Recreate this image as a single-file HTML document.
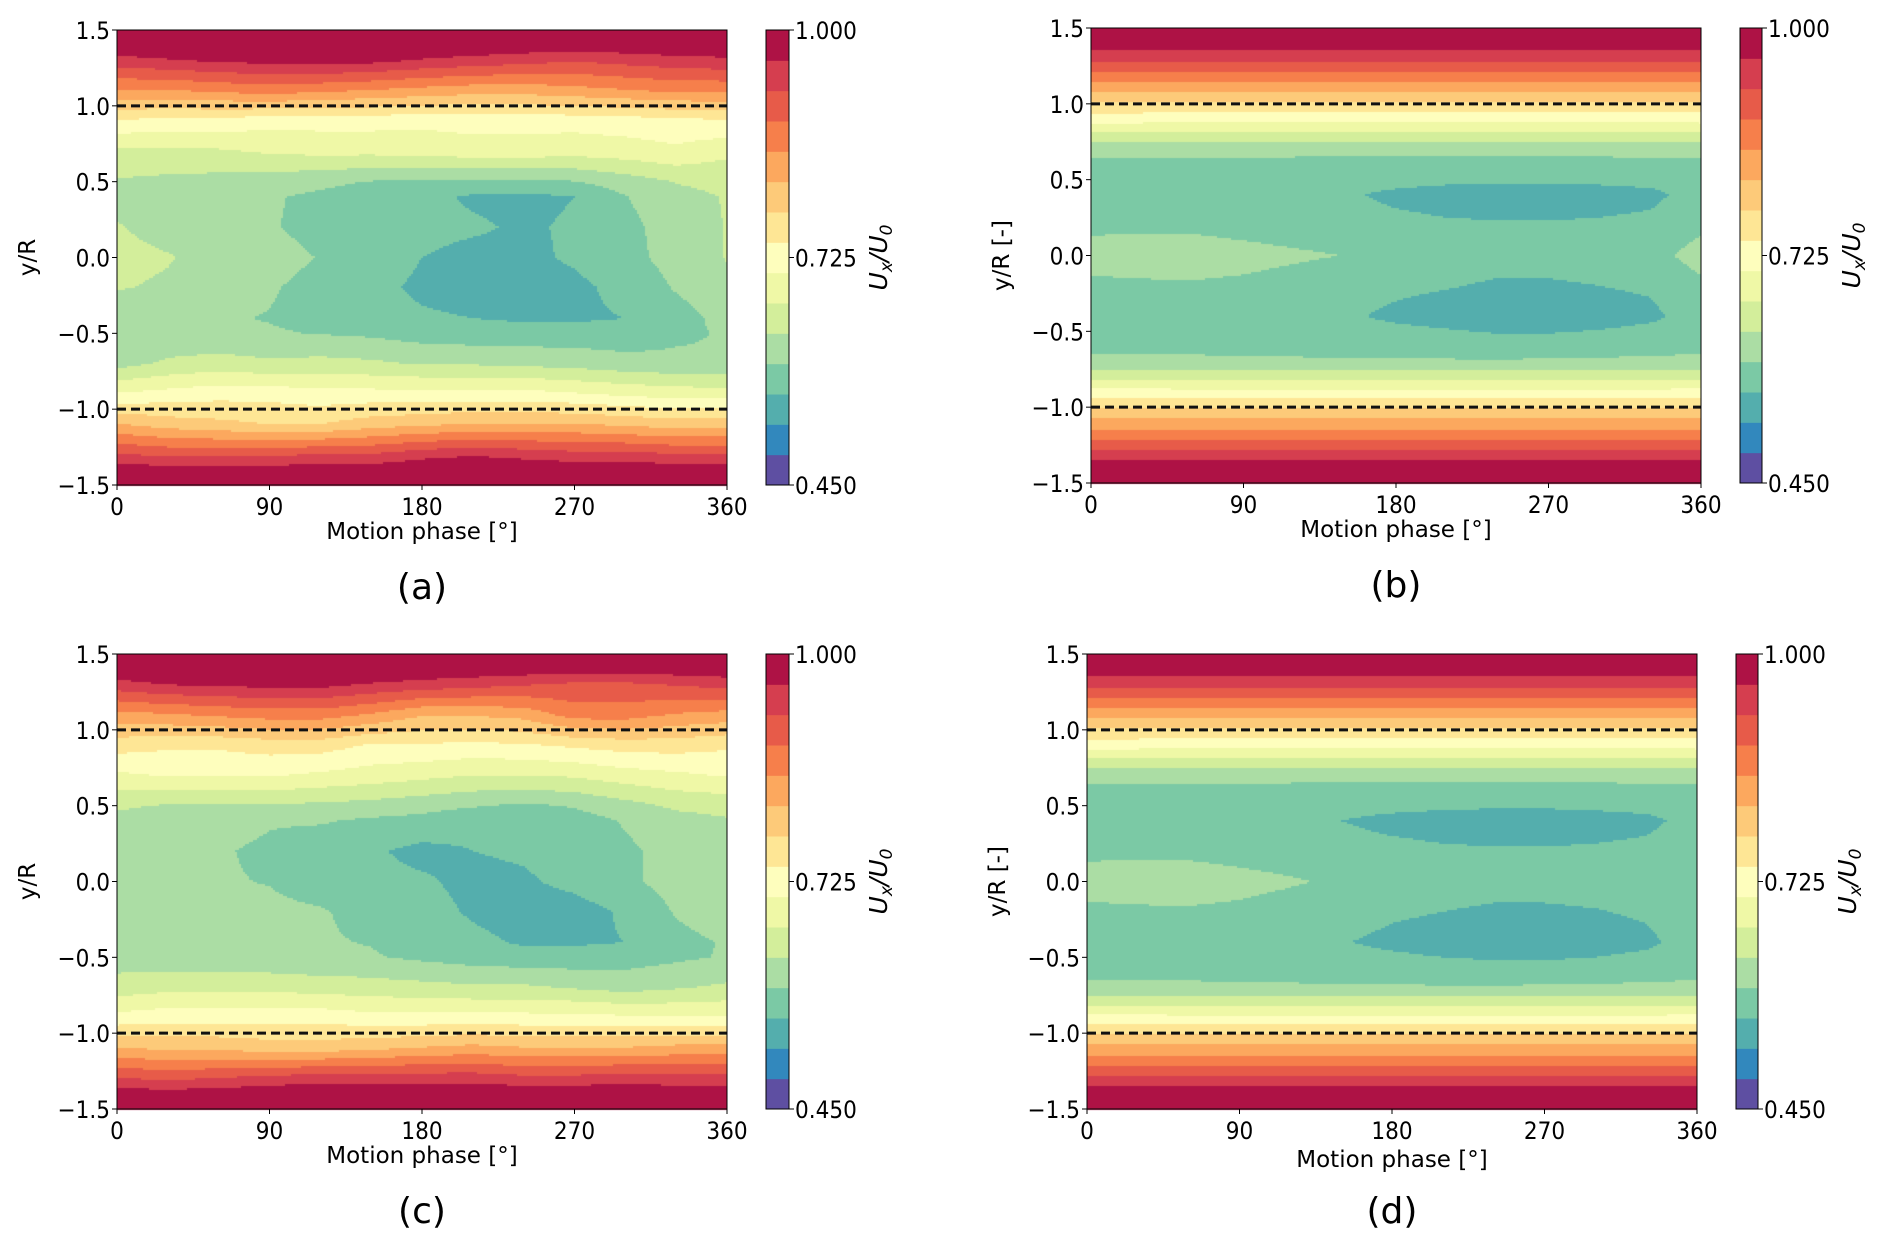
<!DOCTYPE html>
<html><head><meta charset="utf-8">
<style>
html,body{margin:0;padding:0;background:#fff;}
#wrap{position:relative;width:1892px;height:1248px;overflow:hidden;}
canvas,svg{position:absolute;left:0;top:0;}
text{font-family:"DejaVu Sans","Liberation Sans",sans-serif;fill:#000;}
</style></head>
<body>
<div id="wrap">
<canvas id="cv" width="1892" height="1248"></canvas>
<svg id="sv" width="1892" height="1248"></svg>
</div>
<script>
const phases=[0,30,60,90,120,150,180,210,240,270,300,330,360];
const yNodes=[1.5,1.3,1.1,0.9,0.7,0.5,0.4,0.2,0,-0.2,-0.4,-0.5,-0.7,-0.9,-1.1,-1.3,-1.5];
const xTicks=[0,90,180,270,360];
const yTicks=[-1.5,-1.0,-0.5,0.0,0.5,1.0,1.5];
const levelMin=0.45, levelMax=1.0, nLevels=15;
const cbTicks=["0.450","0.725","1.000"];
const bandColors=["#5e4fa2","#3288bd","#54aead","#7bc9a5","#abdda4","#d3ee9b","#eff8a6","#fefebd","#fee695","#fdca79","#fca85e","#f67f4b","#e75b49","#d53e4f","#ae1245"];
const fieldA=[
[1.04,1.04,1.04,1.04,1.04,1.04,1.04,1.04,1.04,1.04,1.04,1.04,1.04],
[0.95,0.96,0.97,0.975,0.98,0.975,0.96,0.95,0.94,0.93,0.94,0.95,0.955],
[0.85,0.85,0.86,0.87,0.86,0.85,0.84,0.83,0.83,0.84,0.85,0.86,0.86],
[0.74,0.73,0.73,0.72,0.72,0.72,0.715,0.72,0.72,0.72,0.725,0.73,0.74],
[0.66,0.66,0.665,0.675,0.68,0.68,0.685,0.69,0.69,0.685,0.69,0.7,0.68],
[0.63,0.625,0.62,0.615,0.605,0.595,0.59,0.59,0.59,0.595,0.615,0.635,0.64],
[0.625,0.62,0.61,0.6,0.59,0.58,0.57,0.555,0.55,0.56,0.595,0.625,0.635],
[0.635,0.625,0.615,0.6,0.585,0.575,0.57,0.565,0.555,0.565,0.585,0.615,0.635],
[0.64,0.635,0.625,0.61,0.595,0.58,0.56,0.55,0.552,0.565,0.585,0.61,0.635],
[0.635,0.63,0.615,0.6,0.585,0.57,0.553,0.545,0.545,0.552,0.57,0.6,0.625],
[0.61,0.61,0.6,0.595,0.585,0.575,0.565,0.56,0.555,0.555,0.56,0.58,0.61],
[0.6,0.605,0.6,0.6,0.595,0.59,0.58,0.575,0.575,0.575,0.575,0.59,0.6],
[0.62,0.64,0.65,0.64,0.645,0.64,0.63,0.63,0.625,0.62,0.61,0.605,0.6],
[0.71,0.72,0.73,0.73,0.72,0.72,0.72,0.72,0.72,0.71,0.7,0.69,0.69],
[0.82,0.8,0.79,0.78,0.78,0.8,0.81,0.82,0.82,0.82,0.81,0.8,0.8],
[0.93,0.92,0.92,0.92,0.93,0.93,0.95,0.96,0.95,0.94,0.94,0.93,0.93],
[1.04,1.04,1.04,1.04,1.04,1.04,1.04,1.04,1.04,1.04,1.04,1.04,1.04]];
const fieldB=[
[1.04,1.04,1.04,1.04,1.04,1.04,1.04,1.04,1.04,1.04,1.04,1.04,1.04],
[0.937,0.937,0.937,0.937,0.937,0.937,0.937,0.937,0.937,0.937,0.937,0.937,0.937],
[0.83,0.83,0.83,0.83,0.83,0.83,0.83,0.83,0.83,0.83,0.83,0.83,0.83],
[0.722,0.722,0.721,0.72,0.719,0.718,0.717,0.717,0.717,0.717,0.718,0.72,0.722],
[0.606,0.606,0.605,0.605,0.604,0.604,0.605,0.605,0.606,0.606,0.606,0.606,0.606],
[0.575,0.575,0.575,0.575,0.575,0.574,0.572,0.568,0.565,0.565,0.568,0.572,0.575],
[0.578,0.578,0.577,0.575,0.572,0.565,0.552,0.545,0.543,0.543,0.545,0.55,0.578],
[0.59,0.59,0.59,0.585,0.58,0.575,0.57,0.565,0.563,0.563,0.565,0.57,0.59],
[0.61,0.612,0.613,0.608,0.602,0.596,0.58,0.575,0.572,0.572,0.575,0.585,0.61],
[0.59,0.592,0.593,0.59,0.583,0.575,0.567,0.562,0.556,0.556,0.56,0.565,0.59],
[0.578,0.578,0.577,0.575,0.57,0.565,0.553,0.545,0.54,0.54,0.543,0.552,0.578],
[0.575,0.575,0.575,0.575,0.574,0.572,0.568,0.563,0.557,0.557,0.562,0.57,0.575],
[0.604,0.604,0.603,0.602,0.601,0.6,0.6,0.6,0.6,0.601,0.602,0.603,0.604],
[0.718,0.718,0.718,0.718,0.718,0.718,0.718,0.718,0.718,0.718,0.718,0.718,0.718],
[0.83,0.83,0.83,0.83,0.83,0.83,0.83,0.83,0.83,0.83,0.83,0.83,0.83],
[0.935,0.935,0.935,0.935,0.935,0.935,0.935,0.935,0.935,0.935,0.935,0.935,0.935],
[1.04,1.04,1.04,1.04,1.04,1.04,1.04,1.04,1.04,1.04,1.04,1.04,1.04]];
const fieldC=[
[1.04,1.04,1.04,1.04,1.04,1.04,1.04,1.04,1.04,1.04,1.04,1.04,1.04],
[0.95,0.965,0.97,0.975,0.975,0.96,0.95,0.94,0.93,0.92,0.92,0.93,0.94],
[0.84,0.85,0.86,0.87,0.87,0.85,0.82,0.82,0.83,0.87,0.87,0.85,0.84],
[0.76,0.75,0.75,0.76,0.76,0.74,0.74,0.735,0.74,0.75,0.76,0.76,0.75],
[0.7,0.71,0.71,0.71,0.7,0.69,0.68,0.67,0.67,0.675,0.69,0.7,0.71],
[0.64,0.63,0.63,0.63,0.625,0.62,0.61,0.6,0.59,0.6,0.62,0.64,0.645],
[0.62,0.61,0.61,0.6,0.6,0.59,0.585,0.57,0.57,0.58,0.6,0.62,0.63],
[0.62,0.6,0.6,0.59,0.575,0.565,0.55,0.56,0.565,0.575,0.59,0.61,0.62],
[0.62,0.61,0.6,0.595,0.58,0.57,0.565,0.55,0.555,0.57,0.59,0.61,0.62],
[0.63,0.62,0.61,0.605,0.6,0.585,0.575,0.555,0.54,0.545,0.565,0.6,0.62],
[0.625,0.62,0.61,0.6,0.6,0.595,0.58,0.57,0.555,0.555,0.56,0.585,0.6],
[0.615,0.61,0.61,0.605,0.6,0.6,0.59,0.58,0.575,0.575,0.58,0.59,0.6],
[0.65,0.66,0.66,0.66,0.655,0.65,0.645,0.64,0.64,0.63,0.62,0.63,0.64],
[0.72,0.73,0.73,0.73,0.73,0.72,0.72,0.72,0.72,0.72,0.715,0.71,0.71],
[0.82,0.81,0.81,0.8,0.8,0.81,0.82,0.83,0.82,0.82,0.82,0.83,0.83],
[0.93,0.92,0.93,0.94,0.95,0.95,0.95,0.95,0.94,0.94,0.95,0.94,0.94],
[1.04,1.04,1.04,1.04,1.04,1.04,1.04,1.04,1.04,1.04,1.04,1.04,1.04]];
const fieldD=[
[1.04,1.04,1.04,1.04,1.04,1.04,1.04,1.04,1.04,1.04,1.04,1.04,1.04],
[0.937,0.937,0.937,0.937,0.937,0.937,0.937,0.937,0.937,0.937,0.937,0.937,0.937],
[0.83,0.83,0.83,0.83,0.83,0.83,0.83,0.83,0.83,0.83,0.83,0.83,0.83],
[0.722,0.722,0.721,0.72,0.719,0.718,0.717,0.717,0.717,0.717,0.718,0.72,0.722],
[0.606,0.606,0.605,0.605,0.604,0.604,0.605,0.605,0.606,0.606,0.606,0.606,0.606],
[0.575,0.575,0.575,0.575,0.575,0.573,0.57,0.566,0.564,0.564,0.567,0.572,0.575],
[0.578,0.578,0.577,0.575,0.57,0.56,0.55,0.545,0.543,0.543,0.545,0.55,0.575],
[0.59,0.59,0.59,0.585,0.58,0.575,0.57,0.565,0.563,0.563,0.565,0.57,0.588],
[0.61,0.612,0.612,0.607,0.6,0.592,0.58,0.575,0.572,0.572,0.575,0.582,0.594],
[0.59,0.592,0.593,0.59,0.583,0.575,0.565,0.56,0.555,0.555,0.558,0.565,0.585],
[0.578,0.578,0.577,0.575,0.57,0.562,0.552,0.545,0.54,0.54,0.543,0.552,0.578],
[0.575,0.575,0.575,0.575,0.574,0.572,0.566,0.56,0.556,0.556,0.56,0.568,0.575],
[0.604,0.604,0.603,0.602,0.601,0.6,0.6,0.6,0.6,0.601,0.602,0.603,0.604],
[0.718,0.718,0.718,0.718,0.718,0.718,0.718,0.718,0.718,0.718,0.718,0.718,0.718],
[0.83,0.83,0.83,0.83,0.83,0.83,0.83,0.83,0.83,0.83,0.83,0.83,0.83],
[0.935,0.935,0.935,0.935,0.935,0.935,0.935,0.935,0.935,0.935,0.935,0.935,0.935],
[1.04,1.04,1.04,1.04,1.04,1.04,1.04,1.04,1.04,1.04,1.04,1.04,1.04]];

const panels=[
 {id:"a",field:fieldA,L:117,T:30,R:727,B:485,cbL:766,cbR:789,ylab:"y/R",xlabY:539},
 {id:"b",field:fieldB,L:1091,T:28,R:1701,B:483,cbL:1740,cbR:1762,ylab:"y/R [-]",xlabY:537},
 {id:"c",field:fieldC,L:117,T:654,R:727,B:1109,cbL:766,cbR:789,ylab:"y/R",xlabY:1163},
 {id:"d",field:fieldD,L:1087,T:654,R:1697,B:1109,cbL:1736,cbR:1758,ylab:"y/R [-]",xlabY:1167}
];
const NS="http://www.w3.org/2000/svg";
const sv=document.getElementById('sv');
const ctx=document.getElementById('cv').getContext('2d');
function mk(tag,attrs,txt){const e=document.createElementNS(NS,tag);for(const k in attrs)e.setAttribute(k,attrs[k]);if(txt!==undefined)e.textContent=txt;sv.appendChild(e);return e;}
function sample(field,ph,y){
  let i=0;while(i<phases.length-2&&ph>phases[i+1])i++;
  let j=0;while(j<yNodes.length-2&&y<yNodes[j+1])j++;
  const tx=Math.min(1,Math.max(0,(ph-phases[i])/(phases[i+1]-phases[i])));
  const ty=Math.min(1,Math.max(0,(yNodes[j]-y)/(yNodes[j]-yNodes[j+1])));
  const a=field[j][i],b=field[j][i+1],c=field[j+1][i],d=field[j+1][i+1];
  return (a*(1-tx)+b*tx)*(1-ty)+(c*(1-tx)+d*tx)*ty;
}
function band(v){const k=Math.floor((v-levelMin)/(levelMax-levelMin)*nLevels);return Math.max(0,Math.min(nLevels-1,k));}
const fmtY=v=>(v<0?"\u2212":"")+Math.abs(v).toFixed(1);
panels.forEach(p=>{
  const xs=v=>p.L+(v-0)/360*(p.R-p.L);
  const ys=v=>p.B-(v+1.5)/3*(p.B-p.T);
  const step=2;
  for(let px=p.L;px<p.R;px+=step){
    for(let py=p.T;py<p.B;py+=step){
      const ph=(px+step/2-p.L)/(p.R-p.L)*360;
      const yy=1.5-(py+step/2-p.T)/(p.B-p.T)*3;
      ctx.fillStyle=bandColors[band(sample(p.field,ph,yy))];
      ctx.fillRect(px,py,step,step);
    }
  }
  const cbH=(p.B-p.T)/nLevels;
  bandColors.forEach((c,k)=>{
    const r=mk('rect',{x:p.cbL,y:p.B-(k+1)*cbH,width:p.cbR-p.cbL,height:cbH+0.5,fill:c});
    
    
  });
  const cbf=mk('rect',{x:p.cbL,y:p.T,width:p.cbR-p.cbL,height:p.B-p.T,fill:'none',stroke:'#000','stroke-width':1});
  
  cbTicks.forEach((t,i)=>{
    const yy=p.B-i/(cbTicks.length-1)*(p.B-p.T);
    mk('line',{x1:p.cbR,x2:p.cbR+5,y1:yy,y2:yy,stroke:'#000','stroke-width':1});
    const e=mk('text',{x:p.cbR+6,y:yy+9,'font-size':24,transform:`translate(${p.cbR+6},0) scale(0.9,1) translate(${-(p.cbR+6)},0)`},t);
    
  });
  const cbl=mk('text',{x:0,y:0,'font-size':25,'font-style':'italic','text-anchor':'middle',transform:`translate(${p.cbR+98},${(p.T+p.B)/2}) rotate(-90)`});
  cbl.innerHTML='U<tspan font-size="17" dy="5">x</tspan><tspan dy="-5">/U</tspan><tspan font-size="17" dy="5">0</tspan>';
  
  [1,-1].forEach(v=>{
    const l=mk('line',{x1:p.L,x2:p.R,y1:ys(v),y2:ys(v),stroke:'#111','stroke-width':3,'stroke-dasharray':'9,5'});
    
  });
  const fr=mk('rect',{x:p.L,y:p.T,width:p.R-p.L,height:p.B-p.T,fill:'none',stroke:'#000','stroke-width':1});
  
  xTicks.forEach(t=>{
    mk('line',{x1:xs(t),x2:xs(t),y1:p.B,y2:p.B+5,stroke:'#000','stroke-width':1});
    const e=mk('text',{x:xs(t),y:p.B+30,'font-size':24,'text-anchor':'middle',transform:`translate(${xs(t)},0) scale(0.9,1) translate(${-xs(t)},0)`},String(t));
    
  });
  yTicks.forEach(t=>{
    mk('line',{x1:p.L-5,x2:p.L,y1:ys(t),y2:ys(t),stroke:'#000','stroke-width':1});
    const e=mk('text',{x:p.L-7,y:ys(t)+9,'font-size':24,'text-anchor':'end',transform:`translate(${p.L-7},0) scale(0.9,1) translate(${-(p.L-7)},0)`},fmtY(t));
    
  });
  const xl=mk('text',{x:(p.L+p.R)/2,y:p.xlabY,'font-size':23,'text-anchor':'middle'},'Motion phase [°]');
  
  const yl=mk('text',{x:0,y:0,'font-size':23,'text-anchor':'middle',transform:`translate(${p.L-82},${(p.T+p.B)/2}) rotate(-90)`},p.ylab);
  
  const pl=mk('text',{x:(p.L+p.R)/2,y:p.B+114,'font-size':36,'text-anchor':'middle'},'('+p.id+')');
  
});
</script>
</body></html>
